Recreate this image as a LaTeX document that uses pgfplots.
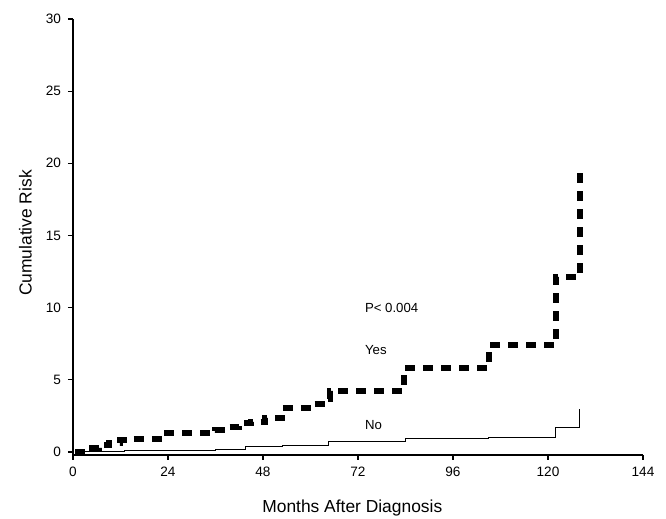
\documentclass[border=0pt]{standalone}
\usepackage{fontspec}
\setmainfont{Liberation Sans}
\usepackage{pgfplots}
\pgfplotsset{compat=1.18}
\begin{document}
\begin{tikzpicture}
\useasboundingbox (-36.5pt,-32pt) rectangle (296.5pt,227.5pt);
\begin{axis}[
  at={(0,0)}, anchor=south west,
  scale only axis, width=285pt, height=218pt,
  xmin=0, xmax=144, ymin=-0.21, ymax=30,
  axis x line*=bottom, axis y line*=left,
  xtick={0,24,...,144}, ytick={0,5,...,30},
  tick align=outside, major tick length=2.5pt,
  tick style={black, line width=0.6pt},
  axis line style={black, line width=1pt},
  ticklabel style={font=\fontsize{6.8}{8}\selectfont},
  /pgf/number format/assume math mode=true,
  xlabel={Months After Diagnosis},
  ylabel={Cumulative Risk},
  label style={font=\fontsize{8.7}{10}\selectfont},
  xlabel style={at={(axis description cs:0.490,-0.131)}, anchor=base},
  ylabel style={at={(axis description cs:-0.0725,0.509)}, anchor=base},
  clip=false,
]
% Yes group (thick dashed step)
\addplot[const plot, black, line width=3pt, dash pattern=on 5pt off 4pt] coordinates {
(0.5,0) (3.5,0.25) (6.5,0.45) (9,0.65) (12,0.8) (14,0.9) (22.5,1.3)
(36,1.55) (39,1.75) (42,2.0) (45,2.1) (48.5,2.35) (52.8,3.05)
(60.5,3.35) (63,3.7) (65,4.2) (83.5,5.8) (105,7.4) (122,12.1) (128,19.4)
};
% No group (thin solid step)
\addplot[const plot, black, line width=0.5pt] coordinates {
(0.5,0) (13,0.07) (23,0.12) (36,0.2) (43.5,0.35) (53,0.45)
(64.5,0.72) (84,0.9) (105,1.02) (122,1.7) (128,3.0)
};
\node[anchor=base west, font=\fontsize{6.6}{8}\selectfont] at (axis cs:72,9.63) {P< 0.004};
\node[anchor=base west, font=\fontsize{6.6}{8}\selectfont] at (axis cs:72,6.72) {Yes};
\node[anchor=base west, font=\fontsize{6.6}{8}\selectfont] at (axis cs:72,1.59) {No};
\end{axis}
\end{tikzpicture}
\end{document}
